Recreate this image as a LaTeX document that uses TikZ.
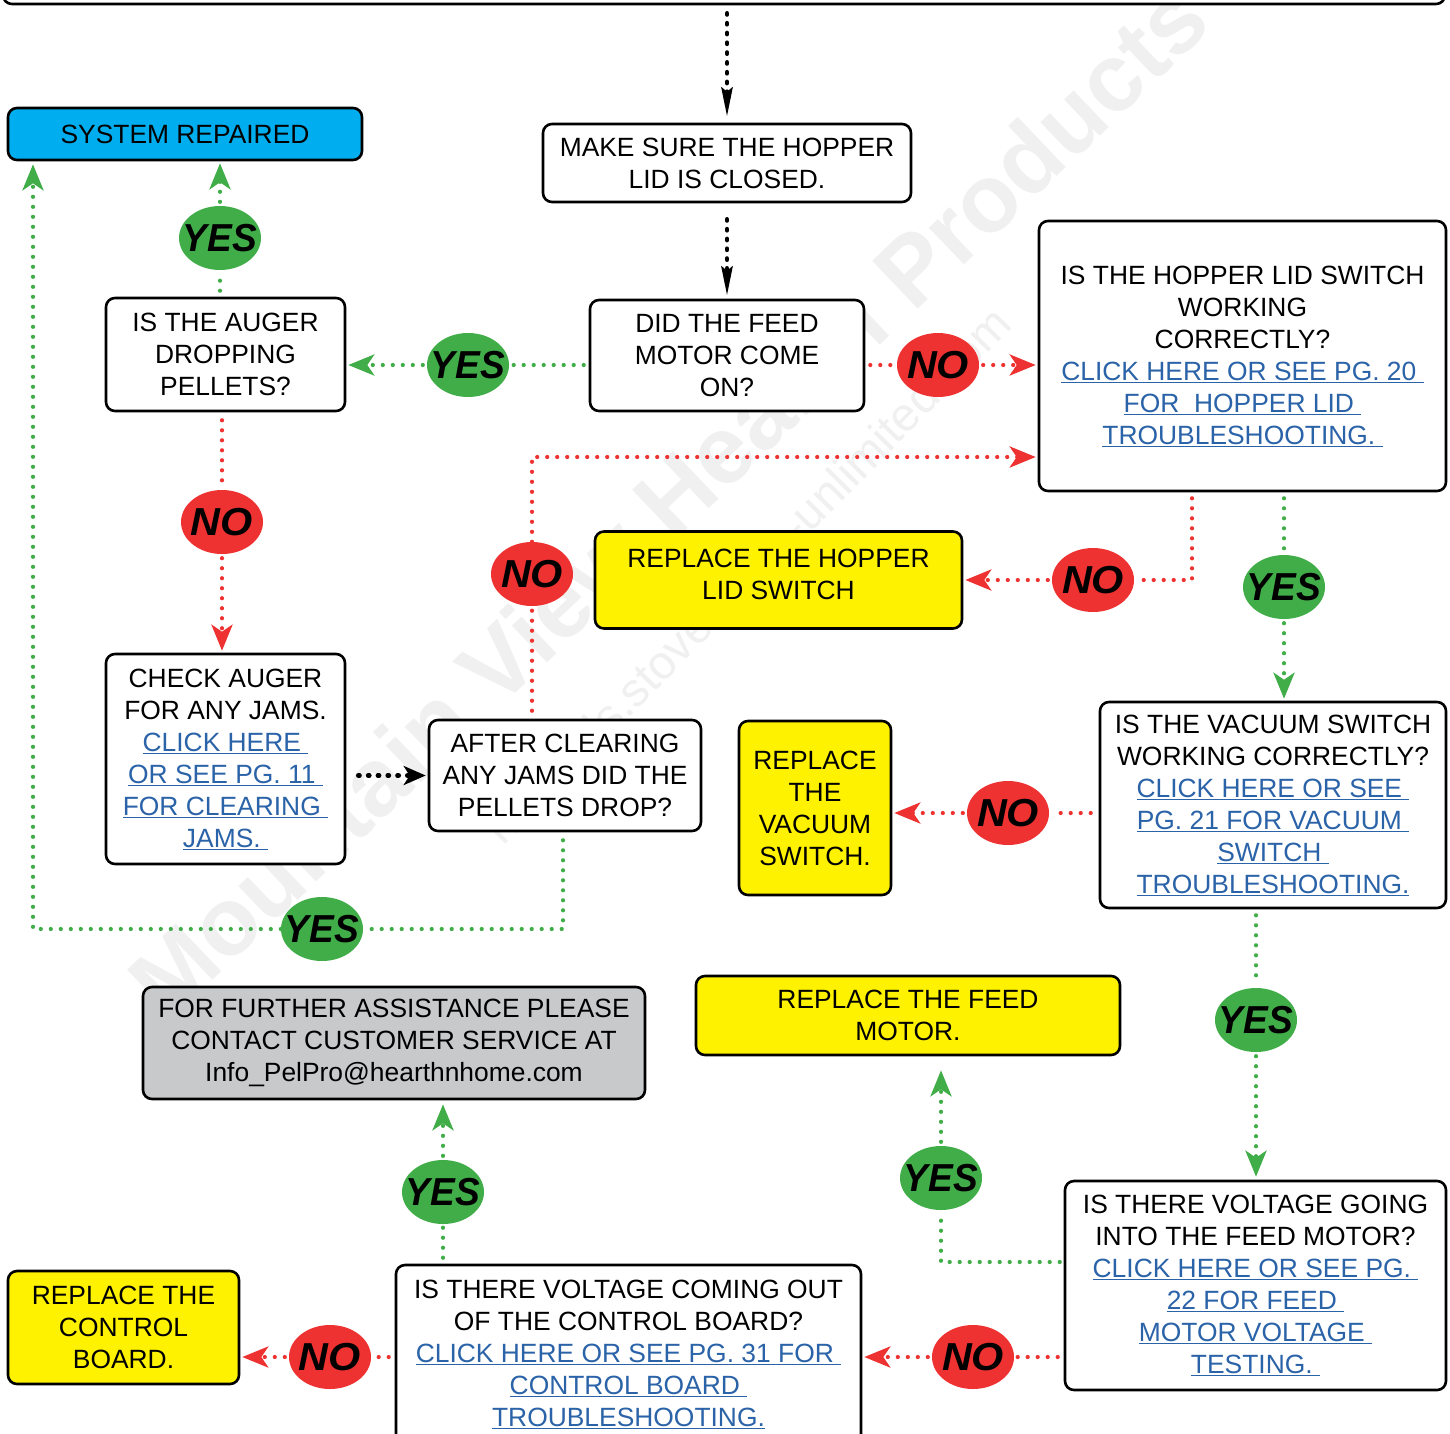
\documentclass[tikz,border=0pt]{standalone}
\usepackage{fontspec}
\usepackage{graphicx}
\setmainfont{Liberation Sans}
\usetikzlibrary{arrows.meta,shapes.geometric}
\definecolor{gr}{HTML}{41AD49}
\definecolor{rd}{HTML}{EE3231}
\definecolor{bl}{HTML}{00AEEF}
\definecolor{yl}{HTML}{FFF200}
\definecolor{gy}{HTML}{C8C9CB}
\definecolor{lk}{HTML}{2B63A8}
\newcommand\lnk[1]{\textcolor{lk}{\underline{#1}}}
\newcommand\yestxt{\makebox[0pt]{\scalebox{0.95}[1]{YES}}}
\newcommand\notxt{\makebox[0pt]{\scalebox{1.06}[1]{NO}}}
\begin{document}
\begin{tikzpicture}[x=1pt,y=-1pt,
  box/.style={draw=black, line width=2.6pt, rounded corners=9pt, align=center,
    inner sep=0pt, fill=white, font=\fontsize{26.4}{32}\selectfont},
  plaintext/.style={align=center, inner sep=0pt, font=\fontsize{26.4}{32}\selectfont},
  yesnode/.style={ellipse, fill=gr, minimum width=82pt, minimum height=64pt,
    inner sep=0pt, font=\fontsize{39}{39}\selectfont\bfseries\itshape},
  nonode/.style={yesnode, fill=rd},
  dotline/.style={line width=4.2pt, line cap=round, dash pattern=on 0pt off 10pt},
  gdot/.style={dotline, draw=gr},
  rdot/.style={dotline, draw=rd},
  kdot/.style={dotline, draw=black, line width=4.6pt, dash pattern=on 1.2pt off 8.6pt},
  ctip/.style={-{Stealth[length=26pt,width=21pt,inset=7pt]}},
  ktip/.style={-{Stealth[length=29pt,width=11pt,inset=4pt]}},
  ktipb/.style={-{Stealth[length=22pt,width=19pt,inset=6pt]}}
]
\useasboundingbox (0,0) rectangle (1450,1433);
\fill[white] (0,0) rectangle (1450,1433);

% watermarks
\node[rotate=43.6, text=black!6, font=\fontsize{96}{96}\selectfont\bfseries] (wmA) at (668,500) {Mountain View Hearth Products};
\node[rotate=45.5, text=black!6, font=\fontsize{47}{47}\selectfont] (wmB) at (750,578) {manuals.stove-parts-unlimited.com};

% boxes
\node[box, minimum width=1442pt, minimum height=60pt] (topbox) at (724,-26) {};
\node[box, minimum width=368pt, minimum height=78pt] (hop) at (727,163) {MAKE SURE THE HOPPER\\LID IS CLOSED.};
\node[box, minimum width=274pt, minimum height=111pt] (feed) at (727,355.5) {DID THE FEED\\MOTOR COME\\ON?};
\node[box, fill=bl, minimum width=354pt, minimum height=52pt] (sys) at (185,134) {SYSTEM REPAIRED};
\node[box, minimum width=239pt, minimum height=113pt] (auger) at (225.5,354.5) {IS THE AUGER\\DROPPING\\PELLETS?};
\node[box, minimum width=407pt, minimum height=270pt] (lid) at (1242.5,356) {IS THE HOPPER LID SWITCH\\WORKING\\CORRECTLY?\\\lnk{CLICK HERE OR SEE PG. 20\ }\\\lnk{FOR\ \ HOPPER LID\ }\\\lnk{TROUBLESHOOTING.\ }};
\node[box, fill=yl, minimum width=367pt, minimum height=97pt] (replid) at (778.5,580) {};
\node[plaintext] (replidtxt) at (778.5,574) {REPLACE THE HOPPER\\LID SWITCH};
\node[box, minimum width=239pt, minimum height=210pt] (check) at (225.5,759) {CHECK AUGER\\FOR ANY JAMS.\\\lnk{CLICK HERE\ }\\\lnk{OR SEE PG. 11\ }\\\lnk{FOR CLEARING\ }\\\lnk{JAMS.\ }};
\node[box, minimum width=272pt, minimum height=111pt] (after) at (565,775.5) {AFTER CLEARING\\ANY JAMS DID THE\\PELLETS DROP?};
\node[box, fill=yl, minimum width=152pt, minimum height=174pt] (repvac) at (815,808) {REPLACE\\THE\\VACUUM\\SWITCH.};
\node[box, minimum width=346pt, minimum height=206pt] (vac) at (1273,805) {IS THE VACUUM SWITCH\\WORKING CORRECTLY?\\\lnk{CLICK HERE OR SEE\ }\\\lnk{PG. 21 FOR VACUUM\ }\\\lnk{SWITCH\ }\\\lnk{TROUBLESHOOTING.}};
\node[box, fill=gy, minimum width=502pt, minimum height=112pt] (further) at (394,1043) {FOR FURTHER ASSISTANCE PLEASE\\CONTACT CUSTOMER SERVICE AT\\Info\_PelPro@hearthnhome.com};
\node[box, fill=yl, minimum width=424pt, minimum height=79pt] (repfeed) at (908,1015.5) {REPLACE THE FEED\\MOTOR.};
\node[box, minimum width=381pt, minimum height=209pt] (volin) at (1255.5,1285.5) {IS THERE VOLTAGE GOING\\INTO THE FEED MOTOR?\\\lnk{CLICK HERE OR SEE PG.\ }\\\lnk{22 FOR FEED\ }\\\lnk{MOTOR VOLTAGE\ }\\\lnk{TESTING.\ }};
\node[box, fill=yl, minimum width=231pt, minimum height=113pt] (repcb) at (123.5,1327.5) {REPLACE THE\\CONTROL\\BOARD.};
\node[box, minimum width=465pt, minimum height=178pt] (volout) at (628.5,1354) {IS THERE VOLTAGE COMING OUT\\OF THE CONTROL BOARD?\\\lnk{CLICK HERE OR SEE PG. 31 FOR\ }\\\lnk{CONTROL BOARD\ }\\\lnk{TROUBLESHOOTING.}};

% yes / no ovals
\node[yesnode] (yes1) at (220,238) {\yestxt};
\node[yesnode] (yes2) at (468,365) {\yestxt};
\node[nonode] (no1) at (938,365) {\notxt};
\node[nonode] (no2) at (222,522) {\notxt};
\node[nonode] (no3) at (532,574) {\notxt};
\node[nonode] (no4) at (1093,580) {\notxt};
\node[yesnode] (yes3) at (1284,587) {\yestxt};
\node[nonode] (no5) at (1008,813) {\notxt};
\node[yesnode] (yes4) at (322,929) {\yestxt};
\node[yesnode] (yes5) at (1256,1020) {\yestxt};
\node[yesnode] (yes6) at (941,1178) {\yestxt};
\node[yesnode] (yes7) at (443,1192) {\yestxt};
\node[nonode] (no6) at (973,1357) {\notxt};
\node[nonode] (no7) at (330,1357) {\notxt};

% helper coordinates
\coordinate (c1) at (532,457);
\coordinate (c2) at (563,929);
\coordinate (c3) at (33,929);
\coordinate (c4) at (1192,580);
\coordinate (c5) at (941,1262);

% black connectors
\draw[kdot, ktip, shorten <=8pt, shorten >=6pt] (topbox.south -| hop.north) -- (hop.north);
\draw[kdot, ktip, shorten <=16pt, shorten >=3pt] (hop.south) -- (feed.north);
\draw[kdot, ktipb, shorten <=12pt, shorten >=2pt] (check.east |- after.west) -- (after.west);

% feed motor
\draw[gdot, shorten <=5pt, shorten >=2pt] (feed.west |- yes2) -- (yes2);
\draw[gdot, ctip, shorten <=4pt, shorten >=2pt] (yes2) -- (yes2 -| auger.east);
\draw[rdot, shorten <=5pt, shorten >=2pt] (feed.east |- no1) -- (no1);
\draw[rdot, ctip, shorten <=4pt, shorten >=2pt] (no1) -- (no1 -| lid.west);

% auger
\draw[gdot, shorten <=6pt, shorten >=3pt] (auger.north -| yes1) -- (yes1);
\draw[gdot, ctip, shorten <=4pt, shorten >=2pt] (yes1) -- (yes1 |- sys.south);
\draw[rdot, shorten <=8pt, shorten >=3pt] (auger.south -| no2) -- (no2);
\draw[rdot, ctip, shorten <=4pt, shorten >=2pt] (no2) -- (no2 |- check.north);

% after clearing
\draw[rdot, shorten <=8pt, shorten >=3pt] (no3 |- after.north) -- (no3);
\draw[rdot, ctip, shorten >=2pt] (no3) -- (c1) -- (c1 -| lid.west);
\draw[gdot] ([yshift=-8pt]after.south -| c2) -- (c2) -- (yes4);
\draw[gdot, ctip, shorten >=3pt] (yes4) -- (c3) -- (c3 |- sys.south);

% lid switch
\draw[rdot] ([yshift=-6pt]lid.south -| c4) -- (c4) -- (no4);
\draw[rdot, ctip, shorten <=4pt, shorten >=2pt] (no4) -- (no4 -| replid.east);
\draw[gdot, shorten <=6pt, shorten >=3pt] (lid.south -| yes3) -- (yes3);
\draw[gdot, ctip, shorten <=4pt, shorten >=2pt] (yes3) -- (yes3 |- vac.north);

% vacuum switch
\draw[rdot, shorten <=8pt, shorten >=3pt] (vac.west |- no5) -- (no5);
\draw[rdot, ctip, shorten <=4pt, shorten >=2pt] (no5) -- (no5 -| repvac.east);
\draw[gdot, shorten <=6pt, shorten >=3pt] (vac.south -| yes5) -- (yes5);
\draw[gdot, ctip, shorten <=4pt, shorten >=3pt] (yes5) -- (yes5 |- volin.north);

% voltage into feed motor
\draw[gdot, shorten <=4pt, shorten >=3pt] (volin.west |- c5) -- (c5) -- (yes6);
\draw[gdot, ctip, shorten <=4pt, shorten >=14pt] (yes6) -- (yes6 |- repfeed.south);
\draw[rdot, shorten <=6pt, shorten >=3pt] (volin.west |- no6) -- (no6);
\draw[rdot, ctip, shorten <=4pt, shorten >=2pt] (no6) -- (no6 -| volout.east);

% voltage out of control board
\draw[gdot, shorten <=6pt, shorten >=3pt] (volout.north -| yes7) -- (yes7);
\draw[gdot, ctip, shorten <=4pt, shorten >=4pt] (yes7) -- (yes7 |- further.south);
\draw[rdot, shorten <=6pt, shorten >=3pt] (volout.west |- no7) -- (no7);
\draw[rdot, ctip, shorten <=4pt, shorten >=2pt] (no7) -- (no7 -| repcb.east);
\end{tikzpicture}
\end{document}
